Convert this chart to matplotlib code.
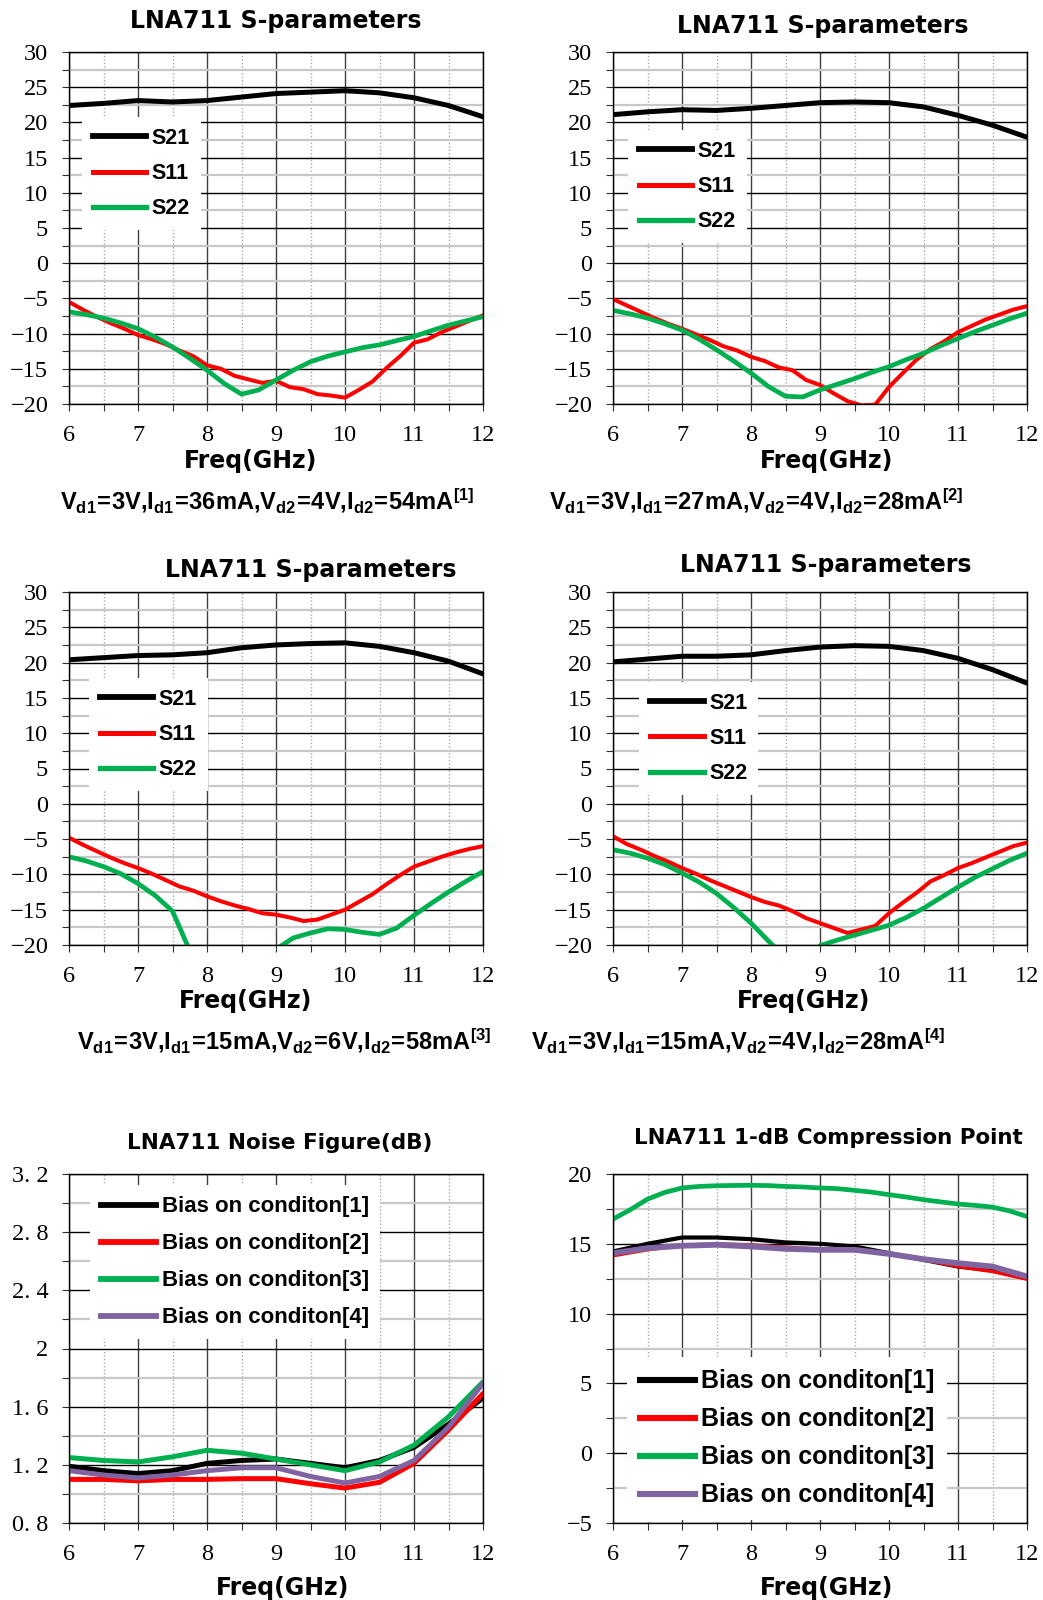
import numpy as np
import matplotlib
matplotlib.use("Agg")
import matplotlib.pyplot as plt
from matplotlib.ticker import MultipleLocator, FuncFormatter
from matplotlib.lines import Line2D

W, H = 1043, 1600

plt.rcParams['mathtext.fontset'] = 'custom'
plt.rcParams['mathtext.bf'] = 'Liberation Sans:bold'
plt.rcParams['mathtext.rm'] = 'Liberation Sans'

# frequency grids (GHz)
f_half = np.linspace(6, 12, 13)
f_quarter = np.linspace(6, 12, 25)
f_fifth = np.linspace(6, 12, 31)

# ---- S-parameters, 4 bias conditions ----
s21_1 = [22.4, 22.7, 23.1, 22.9, 23.1, 23.6, 24.1, 24.3, 24.5, 24.2, 23.5, 22.4, 20.8]
s21_2 = [21.1, 21.5, 21.8, 21.7, 22.0, 22.4, 22.8, 22.9, 22.8, 22.2, 21.0, 19.6, 17.9]
s21_3 = [20.4, 20.7, 21.0, 21.1, 21.4, 22.1, 22.5, 22.7, 22.8, 22.3, 21.4, 20.2, 18.4]
s21_4 = [20.1, 20.5, 20.9, 20.9, 21.1, 21.7, 22.2, 22.4, 22.3, 21.7, 20.6, 19.0, 17.1]

s11_1 = [-5.5, -6.6, -7.6, -8.5, -9.3, -10.2, -10.8, -11.5, -12.4, -13.2, -14.5,
         -15.0, -16.0, -16.5, -17.0, -16.7, -17.6, -17.9, -18.6, -18.8, -19.1,
         -18.0, -16.8, -14.9, -13.2, -11.3, -10.8, -9.8, -9.0, -8.2, -7.4]
s11_2 = [-5.1, -6.0, -6.9, -7.8, -8.6, -9.3, -10.1, -10.9, -11.8, -12.4, -13.3,
         -13.9, -14.8, -15.2, -16.6, -17.3, -18.5, -19.6, -20.2, -20.1, -17.6,
         -15.6, -13.7, -12.2, -11.1, -9.8, -8.9, -8.0, -7.3, -6.6, -6.1]
s11_3 = [-4.8, -5.8, -6.7, -7.6, -8.4, -9.1, -9.9, -10.8, -11.7, -12.3, -13.1,
         -13.8, -14.4, -14.9, -15.5, -15.7, -16.1, -16.6, -16.4, -15.7, -15.0,
         -13.9, -12.8, -11.4, -10.1, -8.9, -8.2, -7.5, -6.9, -6.4, -6.0]
s11_4 = [-4.6, -5.7, -6.5, -7.4, -8.2, -9.1, -9.9, -10.8, -11.6, -12.4, -13.2,
         -13.9, -14.4, -15.2, -16.2, -16.9, -17.6, -18.3, -17.8, -17.3, -15.5,
         -14.0, -12.6, -11.0, -10.1, -9.1, -8.4, -7.6, -6.8, -6.0, -5.5]

s22_1 = [-6.9, -7.3, -7.8, -8.5, -9.3, -10.5, -11.9, -13.5, -15.2, -17.1, -18.6,
         -18.0, -16.6, -15.2, -14.0, -13.2, -12.6, -12.0, -11.6, -11.0, -10.4,
         -9.6, -8.8, -8.2, -7.6]
s22_2 = [-6.7, -7.2, -7.8, -8.6, -9.5, -10.8, -12.3, -13.9, -15.6, -17.5, -18.9,
         -19.0, -18.0, -17.2, -16.4, -15.5, -14.7, -13.7, -12.8, -11.7, -10.7,
         -9.7, -8.8, -7.9, -7.1]
s22_3 = [-7.5, -8.1, -8.9, -9.9, -11.3, -13.0, -15.2, -20.8, -23.5, -25.5, -26.0,
         -24.5, -20.6, -19.0, -18.3, -17.7, -17.8, -18.2, -18.5, -17.6, -15.8,
         -14.1, -12.5, -11.0, -9.6]
s22_4 = [-6.5, -7.0, -7.7, -8.6, -9.8, -11.1, -12.7, -14.7, -16.9, -19.4, -21.8,
         -22.8, -20.1, -19.3, -18.6, -17.9, -17.2, -16.1, -14.8, -13.3, -11.8,
         -10.4, -9.2, -8.0, -7.0]

bias_labels = [
    r"$\mathbf{V_{d1}\!=\!3V{,}I_{d1}\!=\!36mA{,}V_{d2}\!=\!4V{,}I_{d2}\!=\!54mA^{[1]}}$",
    r"$\mathbf{V_{d1}\!=\!3V{,}I_{d1}\!=\!27mA{,}V_{d2}\!=\!4V{,}I_{d2}\!=\!28mA^{[2]}}$",
    r"$\mathbf{V_{d1}\!=\!3V{,}I_{d1}\!=\!15mA{,}V_{d2}\!=\!6V{,}I_{d2}\!=\!58mA^{[3]}}$",
    r"$\mathbf{V_{d1}\!=\!3V{,}I_{d1}\!=\!15mA{,}V_{d2}\!=\!4V{,}I_{d2}\!=\!28mA^{[4]}}$",
]

# ---- noise figure (dB) ----
nf_1 = [1.19, 1.16, 1.14, 1.16, 1.21, 1.23, 1.24, 1.21, 1.18, 1.23, 1.32, 1.48, 1.66]
nf_2 = [1.10, 1.10, 1.09, 1.10, 1.10, 1.105, 1.105, 1.07, 1.04, 1.08, 1.21, 1.44, 1.69]
nf_3 = [1.25, 1.23, 1.22, 1.255, 1.30, 1.28, 1.24, 1.20, 1.16, 1.22, 1.335, 1.53, 1.77]
nf_4 = [1.16, 1.13, 1.11, 1.13, 1.16, 1.18, 1.18, 1.12, 1.075, 1.12, 1.23, 1.46, 1.76]

# ---- output P1dB (dBm) ----
p1_1 = [14.45, 15.0, 15.45, 15.45, 15.33, 15.1, 15.0, 14.81, 14.33, 13.85, 13.37, 13.09, 12.54]
p1_2 = [14.14, 14.57, 14.86, 15.0, 14.93, 14.76, 14.62, 14.52, 14.28, 13.85, 13.37, 13.01, 12.46]
p1_3 = [16.77, 17.44, 18.2, 18.68, 19.0, 19.11, 19.16, 19.18, 19.19, 19.17, 19.11, 19.07,
        19.0, 18.95, 18.83, 18.7, 18.52, 18.35, 18.16, 18.0, 17.85, 17.75, 17.63, 17.35, 16.96]
p1_4 = [14.33, 14.69, 14.86, 14.93, 14.81, 14.64, 14.57, 14.57, 14.28, 13.9, 13.61, 13.37, 12.66]

cond_labels = ["Bias on conditon[1]", "Bias on conditon[2]",
               "Bias on conditon[3]", "Bias on conditon[4]"]

BLACK, RED, GREEN, PURPLE = "#000000", "#ff0000", "#00b050", "#8064a2"
TITLE_FONT = dict(family="DejaVu Sans", weight="bold")
TICK_FONT = dict(family="Liberation Serif", size=17.5)

fig = plt.figure(figsize=(W / 100, H / 100), dpi=100)


def px_axes(l, t, r, b):
    return fig.add_axes([l / W, 1 - b / H, (r - l) / W, (b - t) / H])


def px_text(x, y, s, **kw):
    fig.text(x / W, 1 - y / H, s, ha="center", va="baseline", **kw)


def style_axes(ax, ymin, ymax, ymajor, yminor, yfmt=None):
    ax.set_xlim(6, 12)
    ax.set_ylim(ymin, ymax)
    ax.xaxis.set_major_locator(MultipleLocator(1))
    ax.xaxis.set_minor_locator(MultipleLocator(0.5))
    ax.yaxis.set_major_locator(MultipleLocator(ymajor))
    ax.yaxis.set_minor_locator(MultipleLocator(yminor))
    if yfmt is not None:
        ax.yaxis.set_major_formatter(FuncFormatter(yfmt))
    ax.grid(which="major", axis="y", color="black", lw=1.0)
    ax.grid(which="major", axis="x", color="#404040", lw=1.0)
    ax.grid(which="minor", axis="y", color="#c8c8c8", lw=1.6)
    ax.grid(which="minor", axis="x", color="#a8a8a8", lw=1.0, ls=(0, (1, 1.5)))
    ax.set_axisbelow(True)
    ax.tick_params(which="both", direction="out", length=5, width=0.8,
                   color="#303030", pad=10)
    for lab in ax.get_xticklabels() + ax.get_yticklabels():
        lab.set_fontfamily(TICK_FONT["family"])
        lab.set_fontsize(TICK_FONT["size"])
    for sp in ax.spines.values():
        sp.set_color("black")
        sp.set_linewidth(1.0)


def add_legend(ax, handles, labels, anchor, size, hl, pitch):
    leg = ax.legend(handles, labels, loc="upper left", bbox_to_anchor=anchor,
                    frameon=True, framealpha=1, fancybox=False, edgecolor="none",
                    handlelength=hl, handletextpad=0.25, borderpad=0.5,
                    borderaxespad=0, labelspacing=pitch,
                    prop=dict(family="Liberation Sans", weight="bold", size=size))
    leg.set_zorder(10)
    leg.get_frame().set_linewidth(0)


def sparam_panel(rect, s21, s11, s22, title_xy, xlabel_xy, bias, bias_xy, leg_anchor):
    ax = px_axes(*rect)
    style_axes(ax, -20, 30, 5, 2.5)
    kw = dict(solid_capstyle="round", solid_joinstyle="round")
    ax.plot(f_fifth, s11, color=RED, lw=2.9, **kw)
    ax.plot(f_quarter, s22, color=GREEN, lw=3.4, **kw)
    ax.plot(f_half, s21, color=BLACK, lw=3.6, **kw)
    handles = [Line2D([], [], color=BLACK, lw=4.2),
               Line2D([], [], color=RED, lw=3.6),
               Line2D([], [], color=GREEN, lw=3.8)]
    add_legend(ax, handles, ["S21", "S11", "S22"], leg_anchor, 15.5, 2.5, 0.66)
    px_text(*title_xy, "LNA711 S-parameters", size=17, **TITLE_FONT)
    px_text(*xlabel_xy, "Freq(GHz)", size=17, **TITLE_FONT)
    px_text(*bias_xy, bias, size=17)
    return ax


sparam_panel((69, 52, 483, 404), s21_1, s11_1, s22_1, (276, 28), (251, 468),
             bias_labels[0], (267, 510), (0.031, 0.815))
sparam_panel((613, 52, 1027, 404), s21_2, s11_2, s22_2, (823, 33), (827, 468),
             bias_labels[1], (756, 510), (0.036, 0.778))
sparam_panel((69, 592, 483, 945), s21_3, s11_3, s22_3, (311, 577), (246, 1008),
             bias_labels[2], (284, 1050), (0.048, 0.756))
sparam_panel((613, 592, 1027, 945), s21_4, s11_4, s22_4, (826, 572), (804, 1008),
             bias_labels[3], (738, 1050), (0.063, 0.745))


def nf_fmt(v, pos):
    if abs(v - round(v)) < 1e-6:
        return "%d" % round(v)
    return ("%.1f" % v).replace(".", ". ")


# noise figure panel
ax5 = px_axes(69, 1174, 483, 1523)
style_axes(ax5, 0.8, 3.2, 0.4, 0.2, nf_fmt)
for vals, c in zip([nf_1, nf_2, nf_3, nf_4], [BLACK, RED, GREEN, PURPLE]):
    ax5.plot(f_half, vals, color=c, lw=3.6, solid_capstyle="round",
             solid_joinstyle="round")
add_legend(ax5, [Line2D([], [], color=c, lw=4.2) for c in [BLACK, RED, GREEN, PURPLE]],
           cond_labels, (0.05, 0.968), 16, 2.5, 0.72)
px_text(280, 1149, "LNA711 Noise Figure(dB)", size=15.5, **TITLE_FONT)
px_text(283, 1595, "Freq(GHz)", size=17, **TITLE_FONT)

# P1dB panel
ax6 = px_axes(613, 1174, 1027, 1523)
style_axes(ax6, -5, 20, 5, 2.5)
ax6.plot(f_quarter, p1_3, color=GREEN, lw=3.4, solid_capstyle="round")
ax6.plot(f_half, p1_1, color=BLACK, lw=3.0, solid_capstyle="round")
ax6.plot(f_half, p1_2, color=RED, lw=2.4, solid_capstyle="round")
ax6.plot(f_half, p1_4, color=PURPLE, lw=4.2, solid_capstyle="round")
add_legend(ax6, [Line2D([], [], color=c, lw=4.4) for c in [BLACK, RED, GREEN, PURPLE]],
           cond_labels, (0.034, 0.476), 18, 2.2, 0.56)
px_text(828, 1144, "LNA711 1-dB Compression Point", size=15.4, **TITLE_FONT)
px_text(827, 1595, "Freq(GHz)", size=17, **TITLE_FONT)

fig.savefig("out.png", dpi=100)
